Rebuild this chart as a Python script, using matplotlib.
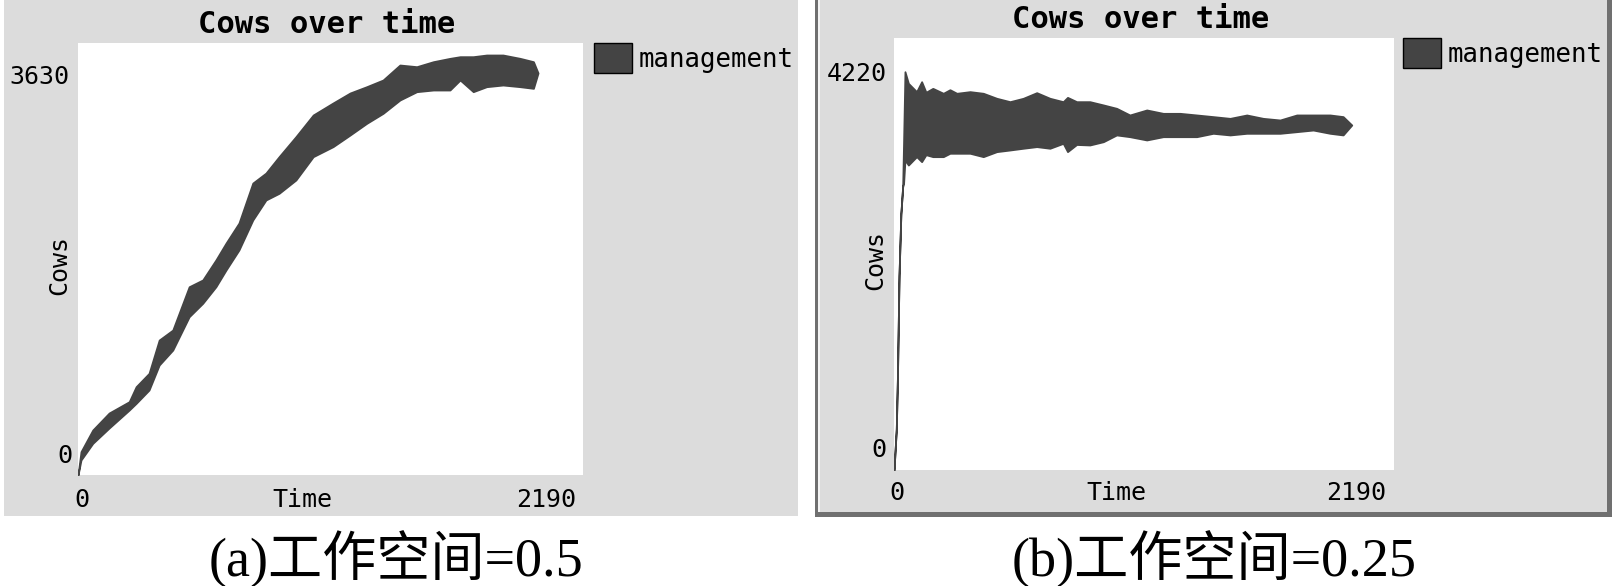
import matplotlib
matplotlib.use("Agg")
import matplotlib.pyplot as plt
from matplotlib.patches import Rectangle, Patch
from matplotlib.transforms import ScaledTranslation

# panel (a): work space = 0.5, envelope of the noisy band
time_a = [0, 13, 64, 135, 222, 252, 308, 352, 411, 482, 541, 598, 642, 698, 758,
          815, 872, 945, 1020, 1106, 1180, 1252, 1323, 1396, 1469, 1541, 1613,
          1657, 1714, 1772, 1843, 1917, 1975, 1995]
upper_a = [0, 196, 378, 521, 616, 742, 854, 1134, 1218, 1582, 1639, 1807, 1949,
           2117, 2453, 2537, 2675, 2843, 3025, 3126, 3210, 3263, 3319, 3445, 3431,
           3473, 3501, 3515, 3515, 3529, 3529, 3501, 3473, 3378]
lower_a = [0, 126, 266, 395, 546, 602, 714, 924, 1050, 1330, 1443, 1582, 1723,
           1891, 2143, 2311, 2367, 2479, 2675, 2759, 2857, 2955, 3039, 3151, 3221,
           3235, 3235, 3319, 3221, 3263, 3277, 3263, 3249, 3378]

# panel (b): work space = 0.25
time_b = [0, 10, 15, 22, 30, 38, 42, 48, 63, 99, 121, 140, 170, 216, 245, 275,
          333, 391, 450, 508, 566, 625, 683, 741, 760, 800, 858, 917, 975, 1033,
          1107, 1179, 1253, 1326, 1398, 1472, 1545, 1617, 1691, 1764, 1836, 1910,
          1967, 2005]
upper_b = [0, 400, 900, 1900, 2500, 2770, 3207, 3891, 3777, 3696, 3793, 3690,
           3728, 3680, 3715, 3680, 3696, 3680, 3631, 3598, 3631, 3686, 3631, 3598,
           3640, 3598, 3598, 3566, 3533, 3468, 3517, 3484, 3484, 3468, 3452, 3435,
           3468, 3435, 3419, 3468, 3468, 3468, 3452, 3370]
lower_b = [0, 400, 900, 1900, 2500, 2770, 2800, 3028, 2979, 3061, 3012, 3080,
           3061, 3061, 3094, 3094, 3094, 3061, 3110, 3126, 3143, 3159, 3143, 3191,
           3110, 3180, 3175, 3207, 3273, 3256, 3224, 3256, 3256, 3256, 3289, 3273,
           3289, 3289, 3289, 3305, 3321, 3289, 3273, 3370]

x_max = 2190
y_max_a = 3630
y_max_b = 4220
captions = ["(a)工作空间=0.5", "(b)工作空间=0.25"]

W, H = 1612, 586
GRAY = "#dcdcdc"
BAND = "#444444"
MONO = "DejaVu Sans Mono"

plt.rcParams["font.family"] = MONO
fig = plt.figure(figsize=(W / 100, H / 100), dpi=100)
fig.patch.set_facecolor("white")


def px_rect(x0, y0, x1, y1, color, z=-3):
    # rectangle given in pixel coords from the top-left corner
    fig.add_artist(Rectangle((x0 / W, 1 - y1 / H), (x1 - x0) / W, (y1 - y0) / H,
                             transform=fig.transFigure, facecolor=color,
                             edgecolor="none", zorder=z))


# panel backgrounds
px_rect(4, 0, 798, 516, GRAY)
px_rect(815, 0, 1612, 517, "#707070", z=-4)
px_rect(819, 0, 1607, 512, GRAY)
px_rect(818, 0, 820, 512, "#f4f4f4", z=-2)


def offset(dx, dy):
    return ScaledTranslation(dx / 100, dy / 100, fig.dpi_scale_trans)


def panel(box, t, up, lo, ymax, labs, title_y, legend_x):
    l, top, r, bot = box
    ax = fig.add_axes([l / W, 1 - bot / H, (r - l) / W, (bot - top) / H])
    ax.set_facecolor("white")
    for s in ax.spines.values():
        s.set_visible(False)
    ax.set_xlim(0, x_max)
    ax.set_ylim(0, ymax)
    ax.set_xticks([])
    ax.set_yticks([])
    ax.fill_between(t, lo, up, facecolor=BAND, edgecolor=BAND, lw=1.3)

    # range labels, drawn like the NetLogo plot widget
    (ytx, yty), (y0x, y0y), (x0x, x0y), (xmx, xmy) = labs
    ax.text(0, ymax, str(ymax), transform=ax.transData + offset(ytx, yty),
            ha="right", va="center", fontsize=18, clip_on=False)
    ax.text(0, 0, "0", transform=ax.transData + offset(y0x, y0y),
            ha="right", va="center", fontsize=18, clip_on=False)
    ax.text(0, 0, "0", transform=ax.transData + offset(x0x, x0y),
            ha="center", va="center", fontsize=18, clip_on=False)
    ax.text(x_max, 0, str(x_max), transform=ax.transData + offset(xmx, xmy),
            ha="right", va="center", fontsize=18, clip_on=False)

    ax.set_xlabel("Time", fontsize=18, va="center")
    ax.xaxis.set_label_coords(0.445, x0y / (bot - top))
    ax.set_ylabel("Cows", fontsize=18, va="center")
    ax.yaxis.set_label_coords(-0.037, 0.486)

    ax.text(0.493, 1 + title_y / (bot - top), "Cows over time", transform=ax.transAxes,
            ha="center", va="center", fontsize=22, fontweight="bold")

    handle = Patch(facecolor=BAND, edgecolor="black", lw=1, label="management")
    ax.legend(handles=[handle], loc="upper left", bbox_to_anchor=(legend_x, 1.0),
              frameon=False, borderpad=0, borderaxespad=0, fontsize=18.5,
              handlelength=1.48, handleheight=1.44, handletextpad=0.25)
    return ax


panel((78, 43, 583, 475), time_a, upper_a, lower_a, y_max_a,
      [(-9, -34), (-6, 19), (4, -25), (-7, -25)], 18, 1.0218)
panel((894, 38, 1394, 470), time_b, upper_b, lower_b, y_max_b,
      [(-7, -36), (-8, 20), (3, -23), (-8, -23)], 19, 1.018)

cap_font = ["Liberation Serif", "Noto Sans CJK SC"]
fig.text(396 / W, 1 - 559 / H, captions[0], ha="center", va="center",
         fontsize=39, family=cap_font)
fig.text(1214 / W, 1 - 559 / H, captions[1], ha="center", va="center",
         fontsize=39, family=cap_font)

fig.savefig("out.png", dpi=100, facecolor="white")
